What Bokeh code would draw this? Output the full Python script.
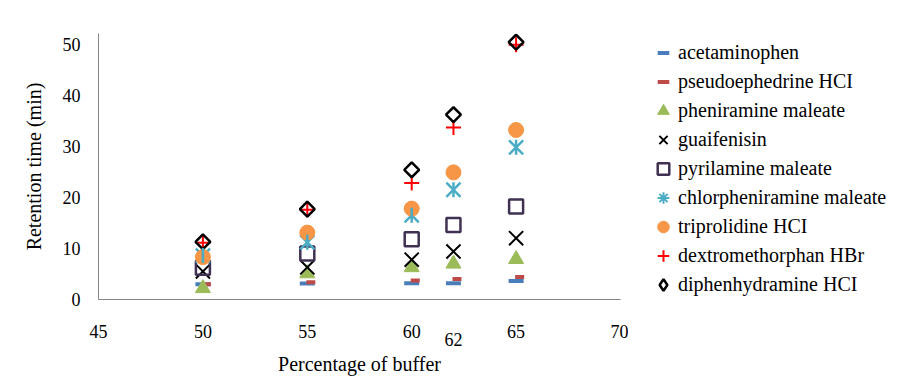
import math
from bokeh.plotting import figure
from bokeh.layouts import row
from bokeh.models import Range1d, Legend, LegendItem, ColumnDataSource, FixedTicker, LinearAxis
from bokeh.transform import dodge
from bokeh.embed import file_html
from bokeh.resources import INLINE

# ---------------- data ----------------
buffer_pct = [50, 55, 60, 62, 65]
acetaminophen = [3.0, 3.15, 3.2, 3.2, 3.6]
pseudoephedrine = [3.0, 3.4, 3.7, 4.0, 4.4]
pheniramine = [2.2, 5.1, 6.3, 7.0, 7.9]
guaifenisin = [5.5, 6.3, 7.8, 9.4, 12.0]
pyrilamine = [6.2, 9.0, 11.8, 14.6, 18.2]
chlorpheniramine = [8.6, 11.2, 16.5, 21.5, 29.8]
triprolidine = [8.3, 13.1, 17.8, 24.9, 33.2]
dextromethorphan = [11.1, 17.6, 22.8, 33.7, 49.9]
diphenhydramine = [11.3, 17.7, 25.4, 36.2, 50.4]

series_names = ["acetaminophen", "pseudoephedrine HCI", "pheniramine maleate",
                "guaifenisin", "pyrilamine maleate", "chlorpheniramine maleate",
                "triprolidine HCI", "dextromethorphan HBr", "diphenhydramine HCI"]
x_ticks = [45, 50, 55, 60, 65, 70]
y_ticks = [0, 10, 20, 30, 40, 50]
extra_x_ticks = [62]
x_title = "Percentage of buffer"
y_title = "Retention time (min)"

FONT = "Liberation Serif"
H = 377

src = ColumnDataSource(dict(
    x=buffer_pct, a=acetaminophen, b=pseudoephedrine, c=pheniramine, d=guaifenisin,
    e=pyrilamine, f=chlorpheniramine, g=triprolidine, h=dextromethorphan, i=diphenhydramine))

# ---------------- main chart ----------------
p = figure(width=628, height=H, output_backend="svg", toolbar_location=None,
           x_range=Range1d(45, 70), y_range=Range1d(0, 52.1),
           min_border_left=98, min_border_right=8, min_border_top=33, min_border_bottom=0)
p.outline_line_color = None
p.xgrid.visible = False
p.ygrid.visible = False
p.background_fill_color = "white"
p.border_fill_color = "white"

x2 = LinearAxis(ticker=FixedTicker(ticks=extra_x_ticks))
p.add_layout(x2, "below")

for ax in (p.xaxis[0], p.yaxis[0], x2):
    ax.axis_line_color = "#868686"
    ax.axis_line_width = 1
    ax.major_tick_line_color = None
    ax.minor_tick_line_color = None
    ax.major_tick_out = 0
    ax.major_tick_in = 0
    ax.major_label_text_font = FONT
    ax.major_label_text_font_size = "18px"
    ax.major_label_text_color = "black"
    ax.axis_label_text_font = FONT
    ax.axis_label_text_font_size = "20px"
    ax.axis_label_text_font_style = "normal"
    ax.axis_label_text_color = "black"

x2.axis_line_color = None
p.xaxis[0].ticker = FixedTicker(ticks=x_ticks)
p.yaxis[0].ticker = FixedTicker(ticks=y_ticks)
x2.axis_label = x_title
p.yaxis[0].axis_label = y_title
p.xaxis[0].major_label_standoff = 25
x2.major_label_standoff = -8
x2.axis_label_standoff = 4
p.yaxis[0].major_label_standoff = 18
p.yaxis[0].axis_label_standoff = 15

STYLES = [
    dict(col="a", marker="dash", size=15, line_color="#4A7EBB", line_width=4),
    dict(col="b", marker="dash", size=9, line_color="#BE4B48", line_width=4),
    dict(col="c", marker="triangle", size=15, fill_color="#9BBB59", line_color="#9BBB59", line_width=1),
    dict(col="d", marker="x", size=20, line_color="black", line_width=2),
    dict(col="e", marker="square", size=14, fill_color=None, line_color="#403152", line_width=2.5),
    dict(col="f", marker="x", size=20, line_color="#4BACC6", line_width=2.5),
    dict(col="g", marker="circle", size=15, fill_color="#F79646", line_color="#F79646"),
    dict(col="h", marker="cross", size=15, line_color="#FF0000", line_width=2),
    dict(col="i", marker="square", size=10.5, angle=math.pi / 4, fill_color=None,
         line_color="black", line_width=2.5),
]

for st in STYLES:
    kw = {k: v for k, v in st.items() if k != "col"}
    xs = dodge("x", 0.17, range=p.x_range) if st["col"] == "b" else "x"
    p.scatter(xs, st["col"], source=src, **kw)
# vertical bar of the star marker
p.scatter("x", "f", source=src, marker="dash", size=15, angle=math.pi / 2,
          line_color="#4BACC6", line_width=2.5)

# ---------------- legend panel ----------------
lf = figure(width=264, height=H, output_backend="svg", toolbar_location=None,
            x_range=Range1d(0, 1), y_range=Range1d(0, 1),
            x_axis_type=None, y_axis_type=None,
            min_border_left=0, min_border_right=0, min_border_top=0, min_border_bottom=0)
lf.outline_line_color = None
lf.xgrid.visible = False
lf.ygrid.visible = False
lf.background_fill_color = "white"
lf.border_fill_color = "white"

legend_overrides = {"f": dict(marker="asterisk", size=14, line_color="#4BACC6", line_width=2),
                    "i": dict(marker="diamond", size=14, fill_color=None, line_color="black",
                              line_width=2.5)}
items = []
for name, st in zip(series_names, STYLES):
    kw = legend_overrides.get(st["col"], {k: v for k, v in st.items() if k not in ("col", "angle")})
    # same data as the chart; the panel's ranges keep the points out of view
    r = lf.scatter("x", st["col"], source=src, **kw)
    items.append(LegendItem(label=name, renderers=[r]))

legend = Legend(items=items, location=(20, 0), glyph_width=30, glyph_height=29,
                label_height=29, spacing=0, label_standoff=-2, padding=0, margin=0,
                border_line_color=None, background_fill_alpha=0,
                label_text_font=FONT, label_text_font_size="20px", label_text_color="black")
lf.add_layout(legend, "center")

layout = row(p, lf, spacing=0)
open("out.html", "w").write(file_html(layout, INLINE))
